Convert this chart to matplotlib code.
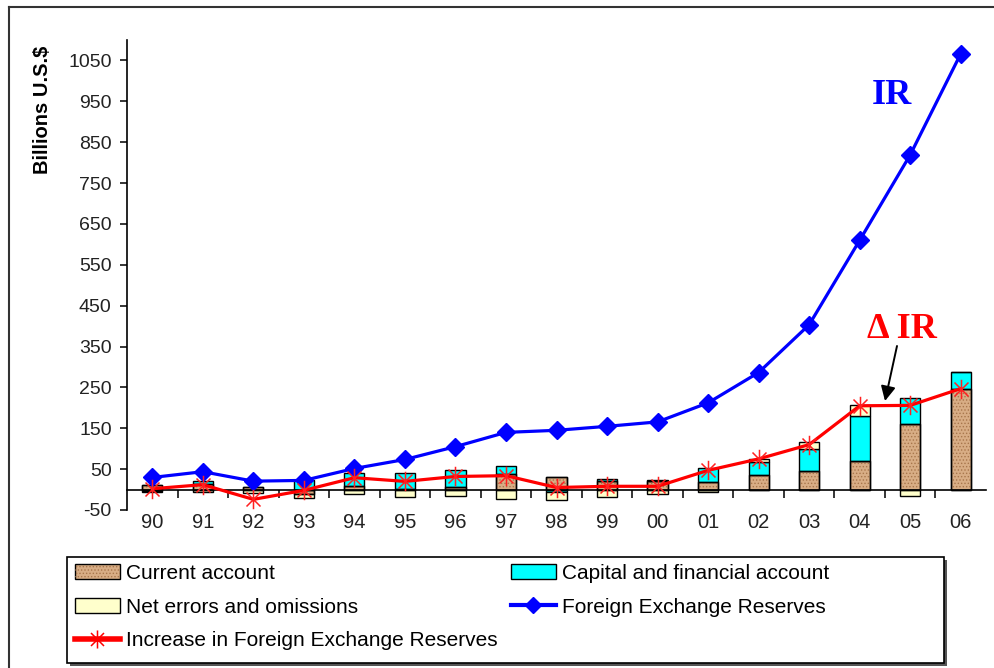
import numpy as np
import matplotlib
matplotlib.use('Agg')
import matplotlib.pyplot as plt
from matplotlib.path import Path
from matplotlib.patches import Rectangle, Patch
from matplotlib.lines import Line2D
from matplotlib.legend_handler import HandlerTuple

# ---------------- data (billions US$) ----------------
years = ['90', '91', '92', '93', '94', '95', '96', '97', '98', '99',
         '00', '01', '02', '03', '04', '05', '06']
current_account = [12.0, 13.3, 6.4, -11.9, 7.7, 1.6, 7.2, 37.0, 31.5, 21.1,
                   20.5, 17.4, 35.4, 45.9, 68.7, 160.8, 247.0]
capital_account = [-2.8, 8.0, -0.3, 23.5, 32.6, 38.7, 40.0, 21.0, -6.3, 5.2,
                   2.0, 34.8, 32.3, 52.8, 110.7, 63.0, 41.0]
net_errors = [-3.1, -6.8, -8.2, -9.8, -9.8, -17.8, -15.5, -22.3, -18.9, -17.8,
              -11.9, -4.9, 7.8, 18.4, 27.0, -16.8, 0.0]
reserves = [29.6, 43.7, 20.6, 22.4, 51.6, 73.6, 105.0, 139.9, 145.0, 154.7,
            165.6, 212.2, 286.4, 403.3, 609.9, 818.9, 1066.3]
reserve_increase = [2, 12, -24, -2, 29, 20, 32, 34, 5, 8,
                    8, 47, 75, 110, 205, 206, 247]
y_ticks = list(range(-50, 1051, 100))

series_names = ['Current account', 'Capital and financial account',
                'Net errors and omissions', 'Foreign Exchange Reserves',
                'Increase in Foreign Exchange Reserves']

plt.rcParams['font.family'] = ['Liberation Sans', 'DejaVu Sans']
plt.rcParams['hatch.linewidth'] = 0.6
plt.rcParams['axes.unicode_minus'] = False

W, H = 994, 668
fig = plt.figure(figsize=(W / 100, H / 100), dpi=100)


def fx(px):
    return px / W


def fy(py):
    return 1 - py / H


ax = fig.add_axes([fx(127), fy(510), fx(986) - fx(127), fy(40) - fy(510)])
n = len(years)
x = np.arange(n)
ymin, ymax = -50, 1100
ax.set_xlim(-0.5, n - 0.5)
ax.set_ylim(ymin, ymax)

tan = '#D8AD85'
hatch_col = '#A8764C'
cyan = '#00FFFF'
cream = '#FFFFCC'
bar_w = 0.4

pos_base = np.zeros(n)
neg_base = np.zeros(n)
for vals, col, hatched in [(current_account, tan, True),
                           (capital_account, cyan, False),
                           (net_errors, cream, False)]:
    v = np.array(vals, dtype=float)
    bottom = np.where(v >= 0, pos_base, neg_base)
    ax.bar(x, v, bar_w, bottom=bottom, color=col, edgecolor='black',
           linewidth=1.0, zorder=2)
    if hatched:
        ax.bar(x, v, bar_w, bottom=bottom, facecolor='none',
               edgecolor=hatch_col, hatch='.....', linewidth=0, zorder=2.1)
        ax.bar(x, v, bar_w, bottom=bottom, facecolor='none',
               edgecolor='black', linewidth=1.0, zorder=2.2)
    pos_base += np.where(v >= 0, v, 0)
    neg_base += np.where(v < 0, v, 0)

star = Path([(0, -1), (0, 1), (-0.72, -0.72), (0.72, 0.72),
             (-0.72, 0.72), (0.72, -0.72)],
            [Path.MOVETO, Path.LINETO, Path.MOVETO, Path.LINETO,
             Path.MOVETO, Path.LINETO])

ax.plot(x, reserves, color='#0000FF', lw=2.3, marker='D', ms=9.5,
        zorder=4, clip_on=False)
ax.plot(x, reserve_increase, color='#FF0000', lw=2.3, marker=star, ms=14,
        mew=1.1, mec='#FF2020', zorder=5, clip_on=False)

for s in ['top', 'right']:
    ax.spines[s].set_visible(False)
ax.spines['left'].set_linewidth(1.2)
ax.spines['bottom'].set_position(('data', 0))
ax.spines['bottom'].set_linewidth(1.2)
ax.set_xticks(x[:-1] + 0.5)
ax.tick_params(axis='x', which='major', direction='out', length=6, width=1.1,
               labelbottom=False)
ax.set_yticks(y_ticks)
ax.tick_params(axis='y', direction='out', length=5, width=1.1, pad=6,
               labelsize=14, labelcolor='#222222')

sec = ax.secondary_xaxis('bottom')
sec.set_xticks(x, labels=years)
sec.tick_params(length=0, pad=2, labelsize=14.5, labelcolor='#222222')
sec.spines['bottom'].set_visible(False)

fig.text(fx(43), fy(110), 'Billions U.S.$', rotation=90, fontsize=14.5,
         fontweight='bold', ha='center', va='center')

fig.text(fx(892), fy(95), 'IR', color='#0000FF', fontsize=26,
         fontweight='bold', family='Liberation Serif', ha='center', va='center')
fig.text(fx(902), fy(329), '\u0394 IR', color='#FF0000', fontsize=26,
         fontweight='bold', family='Liberation Serif', ha='center', va='center')
ax.annotate('', xy=(fx(885), fy(401)), xytext=(fx(897), fy(346)),
            xycoords='figure fraction', textcoords='figure fraction',
            arrowprops=dict(arrowstyle='-|>', color='black', lw=1.4,
                            mutation_scale=22, shrinkA=0, shrinkB=0))

# outer frame
fig.add_artist(Line2D([fx(9), fx(9)], [fy(7), 0], color='#333333', lw=1.5))
fig.add_artist(Line2D([fx(9), 1], [fy(7), fy(7)], color='#333333', lw=1.5))

# legend frame with shadow
fig.add_artist(Rectangle((fx(70), fy(666)), fx(944) - fx(67), fy(557) - fy(663),
                         transform=fig.transFigure, facecolor='#555555',
                         edgecolor='none', zorder=0))
fig.add_artist(Rectangle((fx(67), fy(663)), fx(944) - fx(67), fy(557) - fy(663),
                         transform=fig.transFigure, facecolor='white',
                         edgecolor='black', lw=1.2, zorder=1))

h_ca = (Patch(facecolor=tan, edgecolor='black'),
        Patch(facecolor='none', edgecolor=hatch_col, hatch='.....', lw=0))
h_ka = Patch(facecolor=cyan, edgecolor='black')
h_ne = Patch(facecolor=cream, edgecolor='black')
h_r = Line2D([], [], color='#0000FF', lw=3, marker='D', ms=8)
h_ri = Line2D([], [], color='#FF0000', lw=4, marker=star, ms=13, mew=1.1)

handles = [h_ca, h_ne, h_ri, h_ka, h_r]
labels = [series_names[0], series_names[2], series_names[4],
          series_names[1], series_names[3]]
leg = fig.legend(handles, labels, loc='upper left',
                 bbox_to_anchor=(fx(75), fy(564)), ncol=2, frameon=False,
                 fontsize=15, handlelength=2.15, handletextpad=0.3,
                 labelspacing=0.7, columnspacing=0.63, borderaxespad=0,
                 borderpad=0, handler_map={tuple: HandlerTuple(ndivide=1)})
leg.set_zorder(3)

fig.savefig('out.png', dpi=100)
